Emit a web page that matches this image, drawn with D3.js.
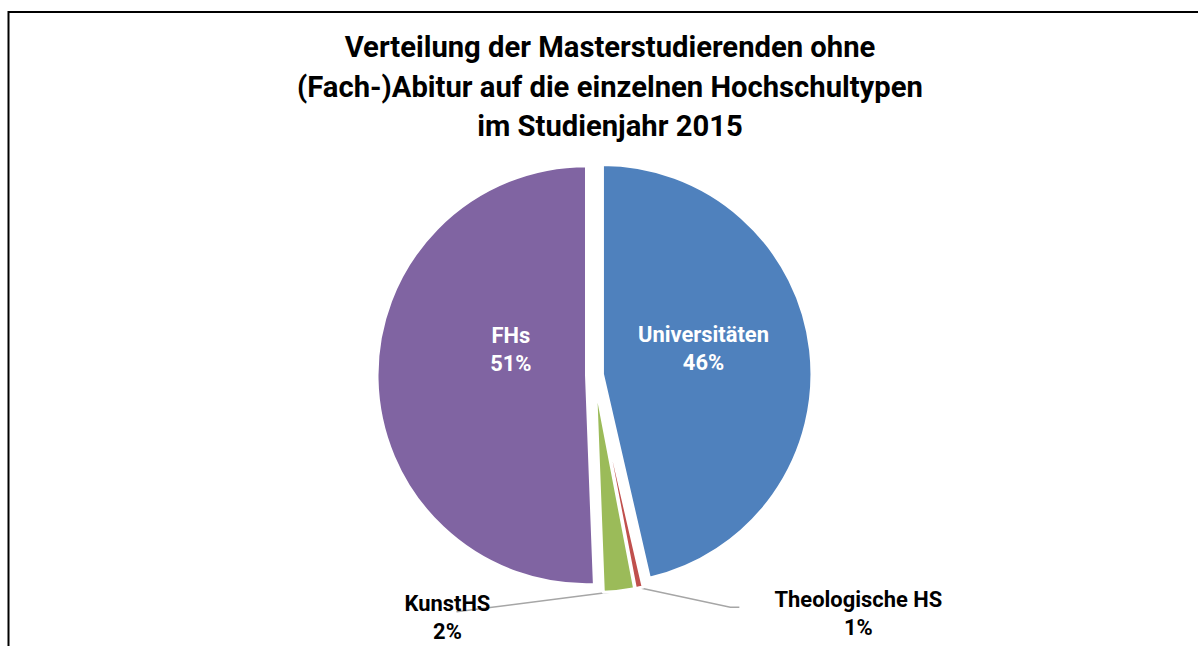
<!DOCTYPE html>
<html>
<head>
<meta charset="utf-8">
<script src="https://cdn.jsdelivr.net/npm/d3@7"></script>
<style>
  body { margin: 0; background: #fff; }
  svg text { font-family: Roboto, Lato, sans-serif; font-weight: bold; }
</style>
</head>
<body>
<svg id="chart" width="1198" height="646"></svg>
<script>
// Daten
const categories = ["Universitäten", "Theologische HS", "KunstHS", "FHs"];
const shares = [46.4, 0.6, 2.4, 50.6];
const pctLabels = ["46%", "1%", "2%", "51%"];
const titleLines = [
    "Verteilung der Masterstudierenden ohne",
    "(Fach-)Abitur auf die einzelnen Hochschultypen",
    "im Studienjahr 2015"
];

const colors = ["#4F81BD", "#C0504D", "#9BBB59", "#8064A2"];

// Label-Platzierung: Winkel (Grad, im Uhrzeigersinn ab oben) und Radius als Anteil von r
const labelLayout = [
    { angle: 76.5, rf: 0.535, inside: true },
    { angle: 132.2, rf: 1.70, inside: false, lead: [[-128, -7], [-119, -7]] },
    { angle: 211.2, rf: 1.355, inside: false, lead: [[9, -6]] },
    { angle: 286.7, rf: 0.417, inside: true }
];

const svg = d3.select("#chart");

// Schriftgroesse so waehlen, dass die Breite zum Original passt
function fitSize(str, targetWidth) {
    const probe = svg.append("text").attr("font-size", 100).text(str);
    const w = probe.node().getComputedTextLength();
    probe.remove();
    return 100 * targetWidth / w;
}

// Rahmen (rechts/unten ausserhalb des Bildes)
svg.append("rect")
    .attr("x", 8.5).attr("y", 12)
    .attr("width", 1400).attr("height", 1000)
    .attr("fill", "none")
    .attr("stroke", "#000")
    .attr("stroke-width", 2);

// Titel
const titleSize = fitSize(titleLines[1], 626);
svg.append("text")
    .attr("text-anchor", "middle")
    .attr("font-size", titleSize)
    .attr("fill", "#000")
    .selectAll("tspan")
    .data(titleLines)
    .enter().append("tspan")
    .attr("x", 610)
    .attr("y", (d, i) => 57 + i * 39.5)
    .text(d => d);

const cx = 594.5, cy = 375, r = 209.5, explode = 8;

const pie = d3.pie().sort(null).value(d => d.value);
const arcs = pie(categories.map((c, i) => ({ name: c, value: shares[i], pct: pctLabels[i], color: colors[i] })));

const arc = d3.arc().innerRadius(0).outerRadius(r);
const outerArc = d3.arc().innerRadius(r).outerRadius(r);

const g = svg.append("g").attr("transform", `translate(${cx},${cy})`);

function offset(d) {
    const mid = (d.startAngle + d.endAngle) / 2;
    return d3.pointRadial(mid, explode);
}

// Fuehrungslinien
arcs.forEach((d, i) => {
    const lay = labelLayout[i];
    if (lay.inside) return;
    const o = offset(d);
    const c = outerArc.centroid(d);
    const start = [c[0] + o[0], c[1] + o[1]];
    const lp = d3.pointRadial(lay.angle * Math.PI / 180, lay.rf * r);
    const pts = [start].concat(lay.lead.map(p => [lp[0] + p[0], lp[1] + p[1]]));
    g.append("path")
        .attr("d", d3.line()(pts))
        .attr("fill", "none")
        .attr("stroke", "#A6A6A6")
        .attr("stroke-width", 1.5);
});

// Segmente
g.selectAll("path.slice")
    .data(arcs)
    .enter().append("path")
    .attr("class", "slice")
    .attr("transform", d => `translate(${offset(d)})`)
    .attr("d", arc)
    .attr("fill", d => d.data.color)
    .attr("stroke", "#fff")
    .attr("stroke-width", 3)
    .attr("stroke-linejoin", "round");

// Beschriftungen
const labelSize = fitSize("Universitäten", 131);
arcs.forEach((d, i) => {
    const lay = labelLayout[i];
    const p = d3.pointRadial(lay.angle * Math.PI / 180, lay.rf * r);
    const t = g.append("text")
        .attr("text-anchor", "middle")
        .attr("font-size", labelSize)
        .attr("fill", lay.inside ? "#fff" : "#000");
    t.append("tspan").attr("x", p[0]).attr("y", p[1] - 7).text(d.data.name);
    t.append("tspan").attr("x", p[0]).attr("y", p[1] + 21).text(d.data.pct);
});
</script>
</body>
</html>
